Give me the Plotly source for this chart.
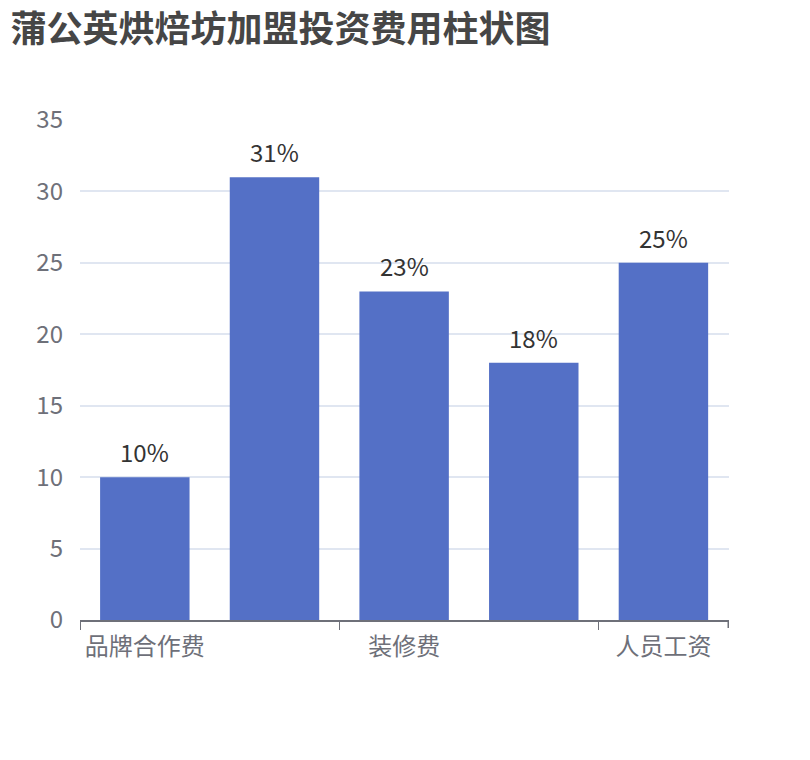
import plotly.graph_objects as go

# cost items (2nd and 4th labels are hidden by the axis interval in the reference)
categories = ["品牌合作费", "加盟费", "装修费", "设备费", "人员工资"]
values = [10, 31, 23, 18, 25]
y_ticks = [0, 5, 10, 15, 20, 25, 30, 35]

FONT = "Noto Sans CJK SC, Microsoft YaHei, sans-serif"
AXIS_GREY = "#6E7079"

fig = go.Figure()
fig.add_trace(go.Bar(
    x=categories, y=values,
    marker=dict(color="#5470c6", line=dict(width=0)),
    hoverinfo="x+y",
))

# value labels above bars, a bit further off than plotly's default outside text
for c, v in zip(categories, values):
    fig.add_annotation(x=c, y=v, text=f"{v}%", showarrow=False,
                       yanchor="bottom", yshift=6,
                       font=dict(size=24, color="#333333", family=FONT))

# closing tick at the right end of the category axis
fig.add_shape(type="line", xref="x", yref="paper",
              x0=len(categories) - 0.5, x1=len(categories) - 0.5, y0=0, y1=-0.016,
              line=dict(color=AXIS_GREY, width=1.5))

fig.update_layout(
    title=dict(text="<b>蒲公英烘焙坊加盟投资费用柱状图</b>", x=0.003, xanchor="left",
               y=0.972, yanchor="middle",
               font=dict(size=36, color="#464646", family=FONT)),
    width=810, height=760,
    margin=dict(l=72, r=89, t=112, b=148),
    paper_bgcolor="white", plot_bgcolor="white",
    bargap=0.31, showlegend=False,
    font=dict(family=FONT),
)
fig.update_xaxes(
    type="category", tickmode="linear", tick0=0, dtick=2,
    tickson="boundaries", ticks="outside", ticklen=8, tickcolor=AXIS_GREY,
    showline=True, linecolor=AXIS_GREY, linewidth=1.5,
    showgrid=False, ticklabelstandoff=4,
    tickfont=dict(size=24, color=AXIS_GREY, family=FONT),
)
fig.update_yaxes(
    range=[0, 35], tickvals=y_ticks,
    showgrid=True, gridcolor="#E0E6F1", gridwidth=1.5,
    zeroline=False, showline=False,
    tickfont=dict(size=24, color=AXIS_GREY, family=FONT),
    ticklabelstandoff=16,
)

fig.write_html("out.html")
